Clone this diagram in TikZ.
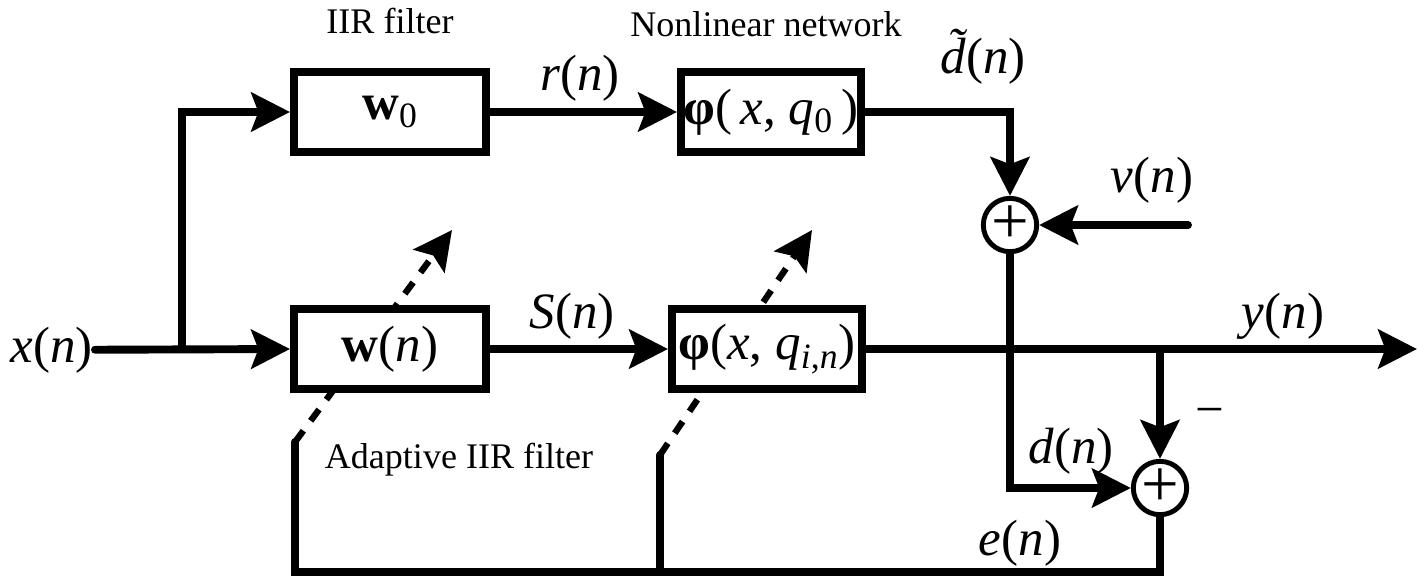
\documentclass[tikz,border=0pt]{standalone}
\usepackage{fontspec}
\setmainfont{Liberation Serif}
\usepackage{tikz}
\usetikzlibrary{arrows.meta,positioning}
\tikzset{>={Stealth[length=22pt,width=22pt,inset=4pt]}}
\newcommand{\vi}[1]{\textit{#1}}

\begin{document}
\begin{tikzpicture}[x=1cm,y=1cm,
                    sig/.style={line width=4.5pt, line cap=round},
                    block/.style={draw, line width=4.5pt, fill=white, inner sep=0pt,
                                  minimum height=1.6cm, font=\fontsize{29}{34}\selectfont},
                    summ/.style={draw, circle, line width=2.8pt, fill=white, inner sep=0pt,
                                 minimum size=1.04cm, font=\fontsize{38}{40}\selectfont},
                    adapt/.style={line width=3.6pt, dash pattern=on 8pt off 7pt, ->},
                    lbl/.style={inner sep=1pt, font=\fontsize{29}{34}\selectfont},
                    txt/.style={inner sep=0pt, font=\fontsize{20.5}{24}\selectfont},
                   ]

\useasboundingbox (0,0) rectangle (28.36,-11.54);

% free ends of the connectors
\coordinate (xb)   at (3.64,-6.98);
\coordinate (vin)  at (23.76,-4.5);
\coordinate (yb)   at (23.2,-6.98);
\coordinate (yout) at (28.34,-6.98);
\coordinate (eb)   at (23.2,-11.44);
\coordinate (e1)   at (5.9,-8.84);
\coordinate (e2)   at (13.2,-9.1);
\coordinate (t1)   at (9.04,-4.6);
\coordinate (t2)   at (16.24,-4.6);

% adaptation arrows (behind the blocks)
\draw[adapt] (e1) -- (t1);
\draw[adapt] (e2) -- (t2);

% blocks
\node[block, minimum width=3.84cm] (w0)   at (7.8,-2.24)  {\textbf{w}\textsubscript{0}};
\node[block, minimum width=3.6cm]  (phi0) at (15.42,-2.24) {\textbf{φ}(\,\vi{x}, \vi{q}\textsubscript{0}\,)};
\node[block, minimum width=3.84cm] (wn)   at (7.8,-6.98)  {\textbf{w}(\vi{n})};
\node[block, minimum width=3.8cm]  (phin) at (15.34,-6.98) {\textbf{φ}(\vi{x}, \vi{q}\textsubscript{\vi{i},\vi{n}})};

\node[summ] (s1) at (20.2,-4.5)  {+};
\node[summ] (s2) at (23.2,-9.76) {+};

\node[lbl, anchor=base east] (xn) at (1.9,-7.24) {\vi{x}(\vi{n})};

% connectors
\draw[sig,->] (xn.east) -- (wn.west);
\draw[sig,->] (xb) |- (w0.west);
\draw[sig,->] (w0.east) -- (phi0.west);
\draw[sig,->] (wn.east) -- (phin.west);
\draw[sig,->] (phi0.east) -| (s1.north);
\draw[sig,->] (vin) -- (s1.east);
\draw[sig,->] (s1.south) |- (s2.west);
\draw[sig,->] (phin.east) -- (yout);
\draw[sig,->] (yb) -- (s2.north);
\draw[sig] (s2.south) -- (eb) -| (e1);
\draw[sig] (e2) -- (e2 |- eb);

% labels
\node[txt, anchor=base] (tw0)  at (7.8,-0.66)  {IIR filter};
\node[txt, anchor=base] (tphi) at (15.32,-0.72) {Nonlinear network};
\node[txt, anchor=base] (tad)  at (9.18,-9.36) {Adaptive IIR filter};

\node[lbl, anchor=base] (rn) at (11.6,-1.8)   {\vi{r}(\vi{n})};
\node[lbl, anchor=base] (dt) at (19.66,-1.46) {\textit{\accent"02DC d}(\vi{n})};
\node[lbl, anchor=base] (vn) at (23.04,-3.84) {\vi{v}(\vi{n})};
\node[lbl, anchor=base] (sn) at (11.44,-6.56) {\vi{S}(\vi{n})};
\node[lbl, anchor=base] (yn) at (25.66,-6.56) {\vi{y}(\vi{n})};
\node[lbl, anchor=base] (dn) at (21.42,-9.26) {\vi{d}(\vi{n})};
\node[lbl, anchor=base] (en) at (20.4,-11.1)  {\vi{e}(\vi{n})};
\node[lbl] (neg) at (24.2,-8.34) {−};

\end{tikzpicture}
\end{document}
